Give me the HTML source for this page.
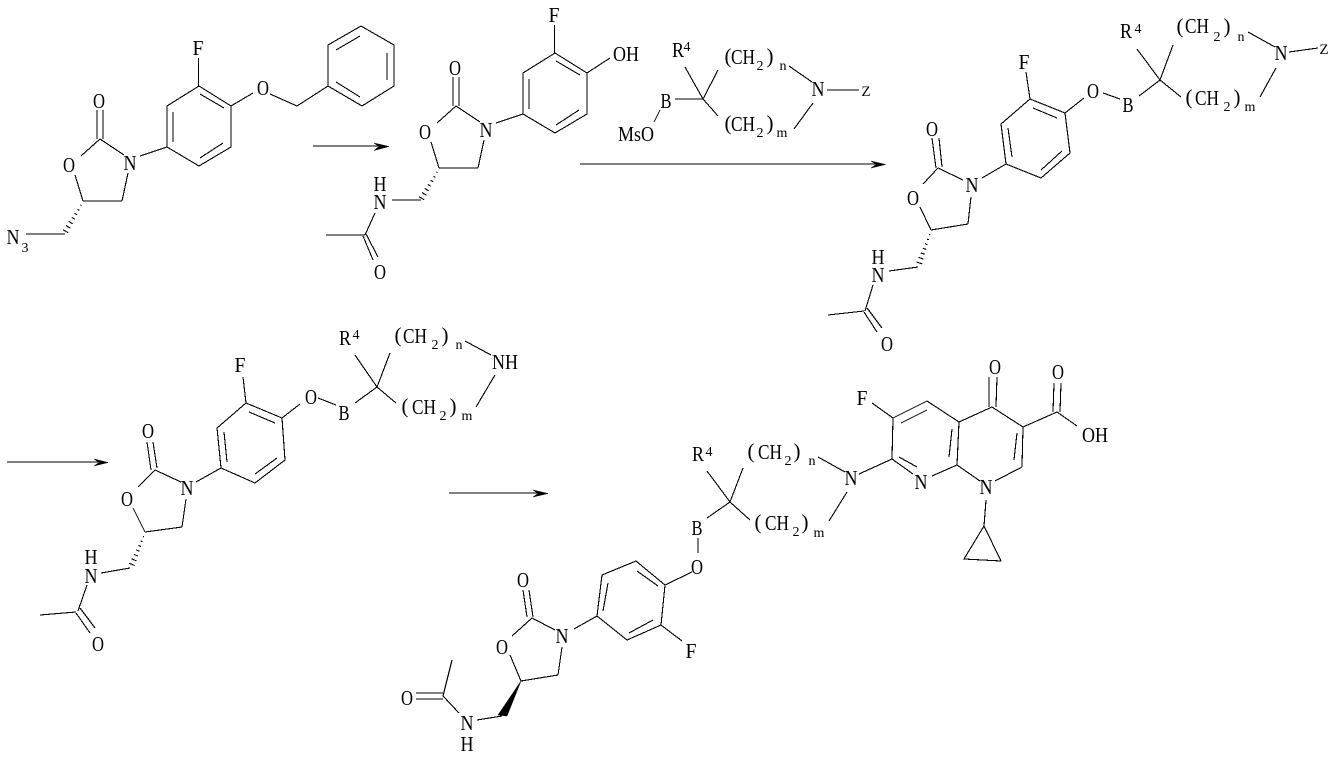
<!DOCTYPE html>
<html>
<head>
<meta charset="utf-8">
<style>
html,body{margin:0;padding:0;background:#fff;}
svg{display:block;}
line,polyline,polygon.s{stroke:#000;stroke-width:1.1;fill:none;shape-rendering:crispEdges;}
text{font-family:"Liberation Serif",serif;font-size:21px;fill:#000;text-anchor:middle;}
text.s{font-size:14px;}
text.z{font-size:15px;}
polygon.f{fill:#000;stroke:#000;stroke-width:.5;}
</style>
</head>
<body>
<svg width="1338" height="761" viewBox="0 0 1338 761" xmlns="http://www.w3.org/2000/svg">

<!-- Molecule 1 scaffold -->
<g>
<text x="198" y="55" textLength="11" lengthAdjust="spacingAndGlyphs">F</text>
<line x1="198.500" y1="58" x2="198.500" y2="86"/>
<polyline points="199,86 231,106 231,147 199,166 167,147 167,106 199,86"/>
<line x1="200" y1="94" x2="224" y2="108"/><line x1="223" y1="143" x2="200" y2="158"/><line x1="173" y1="112" x2="173" y2="142"/>
<text x="130" y="170" textLength="13" lengthAdjust="spacingAndGlyphs">N</text>
<line x1="140" y1="156" x2="167" y2="147"/>
<text x="99" y="108" textLength="12" lengthAdjust="spacingAndGlyphs">O</text>
<line x1="97" y1="110" x2="97" y2="139"/><line x1="103" y1="110" x2="103" y2="139"/>
<line x1="100" y1="139" x2="124" y2="155"/><line x1="100" y1="139" x2="81" y2="156"/>
<text x="69" y="172" textLength="12" lengthAdjust="spacingAndGlyphs">O</text>
<line x1="75" y1="175" x2="83" y2="201"/><line x1="83" y1="201" x2="122" y2="201"/><line x1="122" y1="201" x2="128" y2="173"/>
<g transform="translate(83,202) rotate(120.700)"><line x1="4" y1="-.6" x2="4" y2=".6"/><line x1="9" y1="-1" x2="9" y2="1"/><line x1="14" y1="-1.400" x2="14" y2="1.400"/><line x1="19" y1="-1.800" x2="19" y2="1.800"/><line x1="24" y1="-2.200" x2="24" y2="2.200"/><line x1="29" y1="-2.600" x2="29" y2="2.600"/><line x1="34" y1="-3" x2="34" y2="3"/></g>
</g>
<line x1="26" y1="234" x2="65" y2="234"/>
<text x="13" y="244" textLength="13" lengthAdjust="spacingAndGlyphs">N</text><text class="s" x="25" y="252">3</text>
<text x="263" y="95" textLength="12" lengthAdjust="spacingAndGlyphs">O</text>
<line x1="231" y1="106" x2="253" y2="93"/><line x1="270" y1="94" x2="297" y2="106"/><line x1="297" y1="106" x2="328" y2="86"/>
<polyline points="328,86 328,45 361,26 394,45 394,86 362,106 328,86"/>
<line x1="336" y1="50" x2="360" y2="36"/><line x1="387" y1="53" x2="387" y2="80"/><line x1="336" y1="82" x2="360" y2="97"/>

<!-- Arrow 1 -->
<line x1="313" y1="146" x2="380" y2="146"/>
<polygon class="f" points="374,143 389,146.500 374,150.500 379,146.500"/>

<!-- Molecule 2 scaffold -->
<g transform="translate(356,-33)">
<text x="198" y="55" textLength="11" lengthAdjust="spacingAndGlyphs">F</text>
<line x1="198.500" y1="58" x2="198.500" y2="86"/>
<polyline points="199,86 231,106 231,147 199,166 167,147 167,106 199,86"/>
<line x1="200" y1="94" x2="224" y2="108"/><line x1="223" y1="143" x2="200" y2="158"/><line x1="173" y1="112" x2="173" y2="142"/>
<text x="130" y="170" textLength="13" lengthAdjust="spacingAndGlyphs">N</text>
<line x1="140" y1="156" x2="167" y2="147"/>
<text x="99" y="108" textLength="12" lengthAdjust="spacingAndGlyphs">O</text>
<line x1="97" y1="110" x2="97" y2="139"/><line x1="103" y1="110" x2="103" y2="139"/>
<line x1="100" y1="139" x2="124" y2="155"/><line x1="100" y1="139" x2="81" y2="156"/>
<text x="69" y="172" textLength="12" lengthAdjust="spacingAndGlyphs">O</text>
<line x1="75" y1="175" x2="83" y2="201"/><line x1="83" y1="201" x2="122" y2="201"/><line x1="122" y1="201" x2="128" y2="173"/>
<g transform="translate(83,202) rotate(120.700)"><line x1="4" y1="-.6" x2="4" y2=".6"/><line x1="9" y1="-1" x2="9" y2="1"/><line x1="14" y1="-1.400" x2="14" y2="1.400"/><line x1="19" y1="-1.800" x2="19" y2="1.800"/><line x1="24" y1="-2.200" x2="24" y2="2.200"/><line x1="29" y1="-2.600" x2="29" y2="2.600"/><line x1="34" y1="-3" x2="34" y2="3"/></g>
</g>
<line x1="587" y1="73" x2="610" y2="58"/>
<text x="626" y="61" textLength="26" lengthAdjust="spacingAndGlyphs">OH</text>
<line x1="392" y1="200" x2="421" y2="200"/>
<text x="380" y="191" textLength="13" lengthAdjust="spacingAndGlyphs">H</text><text x="380" y="209" textLength="13" lengthAdjust="spacingAndGlyphs">N</text>
<line x1="375" y1="213" x2="365" y2="235"/><line x1="365" y1="235" x2="326" y2="235"/>
<line x1="363" y1="236" x2="373" y2="260"/><line x1="366" y1="234" x2="378" y2="257"/>
<text x="380" y="279" textLength="12" lengthAdjust="spacingAndGlyphs">O</text>

<!-- Reagent -->
<text x="678" y="57" textLength="12" lengthAdjust="spacingAndGlyphs">R</text><text class="s" x="687" y="51">4</text>
<line x1="685" y1="67" x2="703" y2="99"/><line x1="703" y1="99" x2="718" y2="70"/><line x1="703" y1="99" x2="718" y2="116"/><line x1="675" y1="99" x2="703" y2="99"/>
<text x="666" y="108" textLength="11" lengthAdjust="spacingAndGlyphs">B</text>
<line x1="660" y1="110" x2="654" y2="122"/>
<text x="636" y="141" textLength="36" lengthAdjust="spacingAndGlyphs">MsO</text>
<text x="728" y="63">(</text><text x="743" y="64" textLength="24" lengthAdjust="spacingAndGlyphs">CH</text><text class="s" x="760" y="70">2</text><text x="770" y="63">)</text><text class="s" x="783" y="70">n</text>
<text x="728" y="130">(</text><text x="743" y="131" textLength="24" lengthAdjust="spacingAndGlyphs">CH</text><text class="s" x="760" y="137">2</text><text x="770" y="130">)</text><text class="s" x="782" y="137">m</text>
<line x1="789" y1="66" x2="812" y2="82"/>
<text x="818" y="96" textLength="13" lengthAdjust="spacingAndGlyphs">N</text>
<line x1="827" y1="90" x2="859" y2="90"/>
<text class="z" x="866" y="96">Z</text>
<line x1="813" y1="103" x2="794" y2="129"/>

<!-- Arrow 2 -->
<line x1="580" y1="164" x2="875" y2="164"/>
<polygon class="f" points="871,161 885.500,164.500 871,168 876,164.500"/>

<!-- Molecule 3 -->
<text x="1024" y="69" textLength="11" lengthAdjust="spacingAndGlyphs">F</text>
<line x1="1026" y1="72" x2="1030" y2="99"/>
<polyline points="1030,99 1065,113 1070,153 1041,178 1006,164 1001,124 1030,99"/>
<line x1="1033" y1="108" x2="1057" y2="118"/><line x1="1062" y1="151" x2="1041" y2="170"/><line x1="1008" y1="128" x2="1012" y2="157"/>
<text x="1093" y="98" textLength="12" lengthAdjust="spacingAndGlyphs">O</text>
<line x1="1065" y1="113" x2="1084" y2="98"/><line x1="1103" y1="93" x2="1120" y2="99"/>
<text x="1128" y="112" textLength="11" lengthAdjust="spacingAndGlyphs">B</text>
<line x1="1139" y1="96" x2="1160" y2="80"/><line x1="1137" y1="49" x2="1160" y2="80"/><line x1="1160" y1="80" x2="1173" y2="45"/><line x1="1160" y1="80" x2="1181" y2="97"/>
<text x="1126" y="38" textLength="12" lengthAdjust="spacingAndGlyphs">R</text><text class="s" x="1138" y="33">4</text>
<text x="1180" y="33">(</text><text x="1197" y="33" textLength="24" lengthAdjust="spacingAndGlyphs">CH</text><text class="s" x="1217" y="41">2</text><text x="1227" y="33">)</text><text class="s" x="1241" y="41">n</text>
<line x1="1248" y1="32" x2="1275" y2="47"/>
<text x="1281" y="60" textLength="13" lengthAdjust="spacingAndGlyphs">N</text>
<line x1="1289" y1="52" x2="1318" y2="48"/>
<text class="z" x="1324" y="54">Z</text>
<line x1="1276" y1="68" x2="1260" y2="97"/>
<text x="1189" y="104">(</text><text x="1207" y="105" textLength="24" lengthAdjust="spacingAndGlyphs">CH</text><text class="s" x="1227" y="111">2</text><text x="1237" y="104">)</text><text class="s" x="1250" y="111">m</text>
<text x="972" y="192" textLength="13" lengthAdjust="spacingAndGlyphs">N</text>
<line x1="982" y1="178" x2="1006" y2="164"/>
<text x="932" y="136" textLength="12" lengthAdjust="spacingAndGlyphs">O</text>
<line x1="932" y1="138" x2="936" y2="168"/><line x1="939" y1="138" x2="942" y2="167"/>
<line x1="938" y1="168" x2="963" y2="180"/><line x1="938" y1="168" x2="923" y2="184"/>
<text x="913" y="205" textLength="12" lengthAdjust="spacingAndGlyphs">O</text>
<line x1="920" y1="207" x2="931" y2="230"/><line x1="931" y1="230" x2="968" y2="224"/><line x1="968" y1="224" x2="971" y2="197"/>
<g transform="translate(931,231) rotate(109.900)"><line x1="4" y1="-.6" x2="4" y2=".6"/><line x1="9" y1="-1" x2="9" y2="1"/><line x1="14" y1="-1.400" x2="14" y2="1.400"/><line x1="19" y1="-1.800" x2="19" y2="1.800"/><line x1="24" y1="-2.200" x2="24" y2="2.200"/><line x1="29" y1="-2.600" x2="29" y2="2.600"/><line x1="34" y1="-3" x2="34" y2="3"/></g>
<line x1="918" y1="267" x2="889" y2="271"/>
<text x="878" y="264" textLength="13" lengthAdjust="spacingAndGlyphs">H</text><text x="878" y="282" textLength="13" lengthAdjust="spacingAndGlyphs">N</text>
<line x1="873" y1="285" x2="865" y2="311"/><line x1="864" y1="311" x2="828" y2="315"/>
<line x1="864" y1="312" x2="877" y2="332"/><line x1="867" y1="308" x2="882" y2="328"/>
<text x="887" y="351" textLength="12" lengthAdjust="spacingAndGlyphs">O</text>

<!-- Arrow 3 -->
<line x1="7" y1="462" x2="98" y2="462"/>
<polygon class="f" points="94,459 108,462.500 94,466 99,462.500"/>

<!-- Molecule 4 -->
<text x="240" y="372" textLength="11" lengthAdjust="spacingAndGlyphs">F</text>
<line x1="243" y1="377" x2="246" y2="403"/>
<polyline points="246,403 282,418 285,460 255,483 221,468 217,428 246,403"/>
<line x1="249" y1="412" x2="275" y2="423"/><line x1="277" y1="458" x2="255" y2="474"/><line x1="224" y1="432" x2="227" y2="462"/>
<text x="311" y="404" textLength="12" lengthAdjust="spacingAndGlyphs">O</text>
<line x1="282" y1="418" x2="300" y2="404"/><line x1="318" y1="398" x2="336" y2="405"/>
<text x="344" y="420" textLength="11" lengthAdjust="spacingAndGlyphs">B</text>
<line x1="355" y1="403" x2="377" y2="387"/><line x1="355" y1="355" x2="377" y2="387"/><line x1="377" y1="387" x2="390" y2="353"/><line x1="377" y1="387" x2="396" y2="403"/>
<text x="345" y="345" textLength="12" lengthAdjust="spacingAndGlyphs">R</text><text class="s" x="356" y="339">4</text>
<text x="398" y="342">(</text><text x="415" y="343" textLength="24" lengthAdjust="spacingAndGlyphs">CH</text><text class="s" x="435" y="349">2</text><text x="445" y="342">)</text><text class="s" x="459" y="349">n</text>
<line x1="465" y1="341" x2="491" y2="355"/>
<text x="505" y="369" textLength="26" lengthAdjust="spacingAndGlyphs">NH</text>
<line x1="495" y1="375" x2="476" y2="407"/>
<text x="405" y="413">(</text><text x="424" y="414" textLength="24" lengthAdjust="spacingAndGlyphs">CH</text><text class="s" x="443" y="420">2</text><text x="453" y="413">)</text><text class="s" x="467" y="420">m</text>
<text x="187" y="495" textLength="13" lengthAdjust="spacingAndGlyphs">N</text>
<line x1="196" y1="482" x2="221" y2="468"/>
<text x="148" y="438" textLength="12" lengthAdjust="spacingAndGlyphs">O</text>
<line x1="147" y1="442" x2="151" y2="470"/><line x1="153" y1="442" x2="157" y2="468"/>
<line x1="155" y1="470" x2="181" y2="482"/><line x1="155" y1="470" x2="138" y2="487"/>
<text x="127" y="506" textLength="12" lengthAdjust="spacingAndGlyphs">O</text>
<line x1="133" y1="508" x2="145" y2="532"/><line x1="145" y1="532" x2="182" y2="527"/><line x1="182" y1="527" x2="186" y2="499"/>
<g transform="translate(145,533) rotate(112.600)"><line x1="4" y1="-.6" x2="4" y2=".6"/><line x1="9" y1="-1" x2="9" y2="1"/><line x1="14" y1="-1.400" x2="14" y2="1.400"/><line x1="19" y1="-1.800" x2="19" y2="1.800"/><line x1="24" y1="-2.200" x2="24" y2="2.200"/><line x1="29" y1="-2.600" x2="29" y2="2.600"/><line x1="34" y1="-3" x2="34" y2="3"/></g>
<line x1="130" y1="568" x2="101" y2="573"/>
<text x="91" y="564" textLength="13" lengthAdjust="spacingAndGlyphs">H</text><text x="91" y="583" textLength="13" lengthAdjust="spacingAndGlyphs">N</text>
<line x1="87" y1="585" x2="78" y2="611"/><line x1="76" y1="612" x2="40" y2="615"/>
<line x1="76" y1="613" x2="90" y2="633"/><line x1="80" y1="608" x2="95" y2="628"/>
<text x="98" y="651" textLength="12" lengthAdjust="spacingAndGlyphs">O</text>

<!-- Arrow 4 -->
<line x1="449" y1="493" x2="538" y2="493"/>
<polygon class="f" points="533,490 548,493.500 533,497 538,493.500"/>

<!-- Molecule 5 -->
<text x="698" y="461" textLength="12" lengthAdjust="spacingAndGlyphs">R</text><text class="s" x="709" y="456">4</text>
<line x1="707" y1="471" x2="730" y2="502"/><line x1="730" y1="502" x2="743" y2="468"/><line x1="730" y1="502" x2="750" y2="520"/><line x1="707" y1="518" x2="730" y2="502"/>
<text x="697" y="535" textLength="11" lengthAdjust="spacingAndGlyphs">B</text>
<line x1="698" y1="538" x2="698" y2="553"/>
<text x="697" y="574" textLength="12" lengthAdjust="spacingAndGlyphs">O</text>
<line x1="692" y1="572" x2="665" y2="585"/>
<text x="751" y="458">(</text><text x="770" y="459" textLength="24" lengthAdjust="spacingAndGlyphs">CH</text><text class="s" x="788" y="465">2</text><text x="797" y="458">)</text><text class="s" x="812" y="465">n</text>
<line x1="818" y1="457" x2="845" y2="472"/>
<text x="851" y="485" textLength="13" lengthAdjust="spacingAndGlyphs">N</text>
<line x1="859" y1="474" x2="892" y2="459"/><line x1="847" y1="492" x2="829" y2="521"/>
<text x="758" y="529">(</text><text x="777" y="530" textLength="24" lengthAdjust="spacingAndGlyphs">CH</text><text class="s" x="796" y="536">2</text><text x="805" y="529">)</text><text class="s" x="819" y="537">m</text>
<polyline points="913,474 892,459 893,418 927,401 959,422 957,465 932,476"/>
<line x1="899" y1="457" x2="917" y2="467"/><line x1="901" y1="423" x2="927" y2="410"/><line x1="952" y1="429" x2="949" y2="457"/>
<line x1="872" y1="403" x2="893" y2="418"/>
<text x="862" y="405" textLength="11" lengthAdjust="spacingAndGlyphs">F</text>
<text x="921" y="489" textLength="13" lengthAdjust="spacingAndGlyphs">N</text>
<text x="986" y="494" textLength="13" lengthAdjust="spacingAndGlyphs">N</text>
<line x1="957" y1="465" x2="980" y2="481"/><line x1="995" y1="481" x2="1022" y2="467"/>
<polyline points="959,422 992,407 1023,427 1022,467"/>
<line x1="1017" y1="433" x2="1014" y2="460"/>
<text x="995" y="374" textLength="12" lengthAdjust="spacingAndGlyphs">O</text>
<line x1="989" y1="377" x2="989" y2="407"/><line x1="997" y1="377" x2="996" y2="407"/>
<line x1="1023" y1="427" x2="1057" y2="412"/><line x1="1057" y1="412" x2="1077" y2="426"/>
<text x="1095" y="442" textLength="26" lengthAdjust="spacingAndGlyphs">OH</text>
<text x="1058" y="379" textLength="12" lengthAdjust="spacingAndGlyphs">O</text>
<line x1="1054" y1="383" x2="1053" y2="412"/><line x1="1061" y1="383" x2="1060" y2="412"/>
<line x1="986" y1="500" x2="984" y2="526"/>
<polyline points="984,526 964,559 1001,561 984,526"/>
<polyline points="665,585 636,561 602,575 597,616 627,640 661,625 665,585"/>
<line x1="658" y1="586" x2="637" y2="571"/><line x1="608" y1="583" x2="603" y2="611"/><line x1="653" y1="620" x2="629" y2="633"/>
<line x1="661" y1="625" x2="682" y2="641"/>
<text x="691" y="658" textLength="11" lengthAdjust="spacingAndGlyphs">F</text>
<text x="562" y="643" textLength="13" lengthAdjust="spacingAndGlyphs">N</text>
<line x1="574" y1="629" x2="597" y2="616"/>
<text x="523" y="587" textLength="12" lengthAdjust="spacingAndGlyphs">O</text>
<line x1="523" y1="590" x2="527" y2="617"/><line x1="529" y1="590" x2="533" y2="617"/>
<line x1="532" y1="618" x2="555" y2="630"/><line x1="532" y1="618" x2="512" y2="636"/>
<text x="502" y="654" textLength="12" lengthAdjust="spacingAndGlyphs">O</text>
<line x1="510" y1="655" x2="521" y2="681"/><line x1="521" y1="681" x2="558" y2="675"/><line x1="558" y1="675" x2="562" y2="647"/>
<polygon class="f" points="521,681 498,715 507,716"/>
<line x1="502" y1="716" x2="477" y2="720"/>
<text x="467" y="730" textLength="13" lengthAdjust="spacingAndGlyphs">N</text><text x="467" y="751" textLength="13" lengthAdjust="spacingAndGlyphs">H</text>
<line x1="459" y1="713" x2="443" y2="696"/><line x1="443" y1="696" x2="452" y2="660"/>
<line x1="416" y1="693" x2="443" y2="693"/><line x1="416" y1="699" x2="443" y2="699"/>
<text x="407" y="705" textLength="12" lengthAdjust="spacingAndGlyphs">O</text>
</svg>
</body>
</html>
